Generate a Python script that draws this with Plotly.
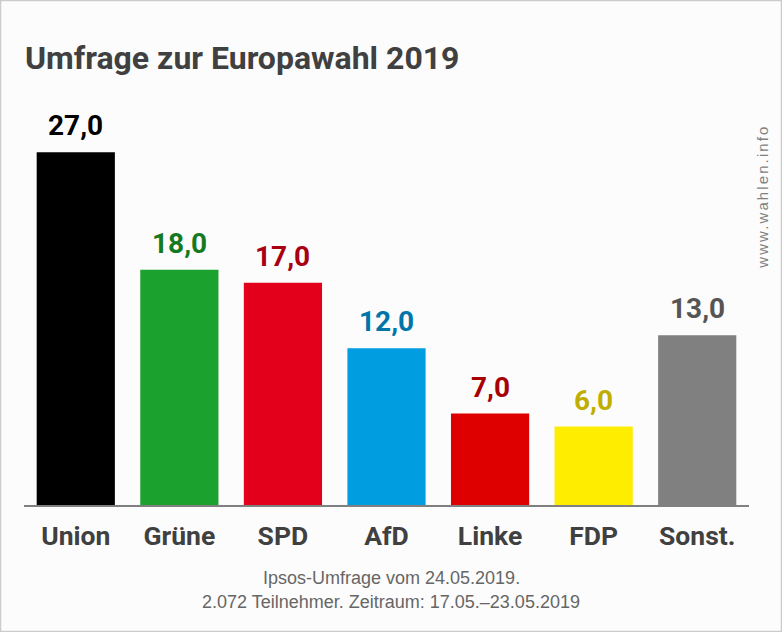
import plotly.graph_objects as go

parties = ["Union", "Grüne", "SPD", "AfD", "Linke", "FDP", "Sonst."]
values = [27.0, 18.0, 17.0, 12.0, 7.0, 6.0, 13.0]
bar_colors = ["#000000", "#1ba12e", "#e3001b", "#009ee0", "#de0000", "#ffed00", "#808080"]
label_colors = ["#000000", "#137a22", "#a80012", "#0075a8", "#a80000", "#bfae00", "#555555"]
title_text = "Umfrage zur Europawahl 2019"
footer_lines = ["Ipsos-Umfrage vom 24.05.2019.", "2.072 Teilnehmer. Zeitraum: 17.05.–23.05.2019"]
watermark = "www.wahlen.info"

W, H = 782, 632
ML, MR, MT, MB = 24, 33, 113, 127
PW, PH = W - ML - MR, H - MT - MB

def px_x(x):
    return (x - ML) / PW

def px_y(y):
    return (H - MB - y) / PH

fig = go.Figure()
fig.add_trace(go.Bar(
    x=parties, y=values, marker=dict(color=bar_colors, line=dict(width=0)),
    width=0.755, hoverinfo="skip"
))

annotations = []
for p, v, c in zip(parties, values, label_colors):
    annotations.append(dict(
        x=p, y=v, xref="x", yref="y", text=f"{v:.1f}".replace(".", ","),
        showarrow=False, yanchor="bottom", yshift=8,
        font=dict(family="Roboto", size=28, color=c, weight="bold")
    ))

annotations.append(dict(
    x=px_x(391), y=px_y(578), xref="paper", yref="paper", text=footer_lines[0],
    showarrow=False, xanchor="center", yanchor="middle",
    font=dict(family="Liberation Sans", size=18, color="#666666")
))
annotations.append(dict(
    x=px_x(391), y=px_y(602), xref="paper", yref="paper", text=footer_lines[1],
    showarrow=False, xanchor="center", yanchor="middle",
    font=dict(family="Liberation Sans", size=18, color="#666666")
))
annotations.append(dict(
    x=px_x(762), y=px_y(197), xref="paper", yref="paper", text=watermark,
    showarrow=False, xanchor="center", yanchor="middle", textangle=-90,
    font=dict(family="Liberation Sans", size=15, color="#808080")
))

fig.update_layout(
    width=W, height=H,
    margin=dict(l=ML, r=MR, t=MT, b=MB, pad=0),
    paper_bgcolor="#fcfcfc", plot_bgcolor="#fcfcfc",
    showlegend=False,
    bargap=0.245,
    title=dict(
        text=title_text, x=25 / W, xanchor="left", xref="container",
        y=1 - 58 / H, yanchor="middle", yref="container",
        font=dict(family="Roboto", size=32, color="#404040", weight="bold")
    ),
    xaxis=dict(
        showgrid=False, zeroline=False, showline=True, linecolor="#808080", linewidth=1.5,
        ticks="", tickfont=dict(family="Roboto", size=26.5, color="#404040", weight="bold"),
        ticklabelstandoff=6, fixedrange=True
    ),
    yaxis=dict(range=[0, 30], visible=False, showgrid=False, zeroline=False, fixedrange=True),
    annotations=annotations,
    shapes=[dict(
        type="rect", xref="paper", yref="paper",
        x0=px_x(0.5), x1=px_x(W - 0.5), y0=px_y(H - 0.5), y1=px_y(0.5),
        line=dict(color="#cccccc", width=1.5), fillcolor="rgba(0,0,0,0)", layer="above"
    )],
)

post = (
    "document.body.style.margin='0';document.body.style.padding='0';"
    "document.body.style.overflow='hidden';"
    "document.querySelectorAll('.annotation-text').forEach(function(t){"
    "if(t.textContent==='" + watermark + "'){t.style.letterSpacing='2.1px';}});"
)

fig.write_html("out.html", config={"displayModeBar": False}, post_script=post)
